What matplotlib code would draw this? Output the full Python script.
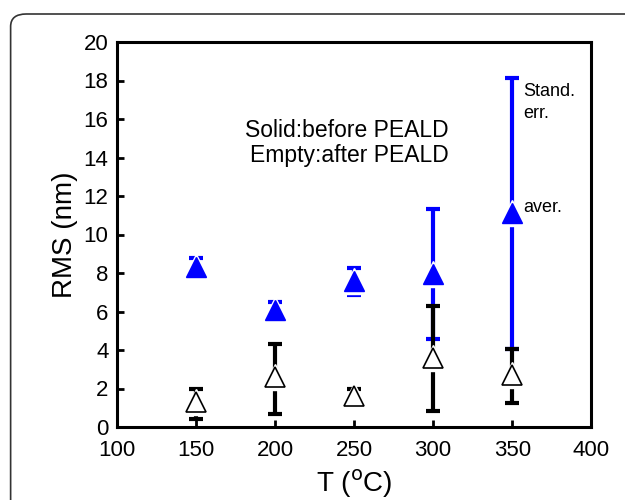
import numpy as np
import matplotlib
matplotlib.use("Agg")
import matplotlib.pyplot as plt
from matplotlib.patches import FancyBboxPatch

# temperatures (C)
temps = [150, 200, 250, 300, 350]

# solid: before PEALD
before_avg = [8.3, 6.1, 7.6, 7.95, 11.1]
before_lo = [0.4, 0.45, 0.75, 3.4, 7.05]
before_hi = [0.5, 0.4, 0.65, 3.4, 7.05]

# empty: after PEALD
after_avg = [1.3, 2.6, 1.6, 3.6, 2.7]
after_lo = [0.9, 1.9, 0.35, 2.75, 1.45]
after_hi = [0.7, 1.7, 0.4, 2.7, 1.35]

xticks = [100, 150, 200, 250, 300, 350, 400]
yticks = [0, 2, 4, 6, 8, 10, 12, 14, 16, 18, 20]

plt.rcParams['font.family'] = ['Liberation Sans', 'DejaVu Sans']

fig = plt.figure(figsize=(6.25, 5), dpi=100)
ax = fig.add_axes([0.187, 0.146, 0.759, 0.77])

# rounded frame around the figure
frame = FancyBboxPatch((0.017, -0.1), 1.1, 1.072, boxstyle="round,pad=0,rounding_size=0.025",
                       transform=fig.transFigure, fill=False, ec='#333333', lw=1.2)
fig.patches.append(frame)

blue = '#0000ff'
ax.errorbar(temps, before_avg, yerr=[before_lo, before_hi], fmt='none', ecolor=blue,
            elinewidth=3, capsize=5, capthick=3, zorder=2)
ax.errorbar(temps, after_avg, yerr=[after_lo, after_hi], fmt='none', ecolor='black',
            elinewidth=3, capsize=5, capthick=3, zorder=3)

# white halo so bars stop short of the markers
ax.plot(temps, before_avg, '^', ms=19, color='white', mec='white', zorder=4)
ax.plot(temps, after_avg, '^', ms=19, color='white', mec='white', zorder=4)
ax.plot(temps, before_avg, '^', ms=15, color=blue, mec=blue, zorder=5)
ax.plot(temps, after_avg, '^', ms=14, mfc='white', mec='black', mew=1.2, zorder=5)

ax.set_xlim(100, 400)
ax.set_ylim(0, 20)
ax.set_xticks(xticks)
ax.set_yticks(yticks)
ax.tick_params(direction='in', length=5, width=2, labelsize=16, top=False, right=False)
ax.tick_params(axis='x', pad=9)
ax.tick_params(axis='y', pad=6)
for s in ax.spines.values():
    s.set_linewidth(2.2)

ax.set_xlabel('T ($^{\\rm o}$C)', fontsize=20, labelpad=5)
ax.set_ylabel('RMS (nm)', fontsize=20, labelpad=4)

ax.text(310, 15.4, 'Solid:before PEALD', ha='right', va='center', fontsize=16.5)
ax.text(310, 14.1, 'Empty:after PEALD', ha='right', va='center', fontsize=16.5)
ax.text(357, 16.85, 'Stand.\nerr.', ha='left', va='center', fontsize=13, linespacing=1.35)
ax.text(357, 11.38, 'aver.', ha='left', va='center', fontsize=13)

fig.savefig('out.png', dpi=100)
